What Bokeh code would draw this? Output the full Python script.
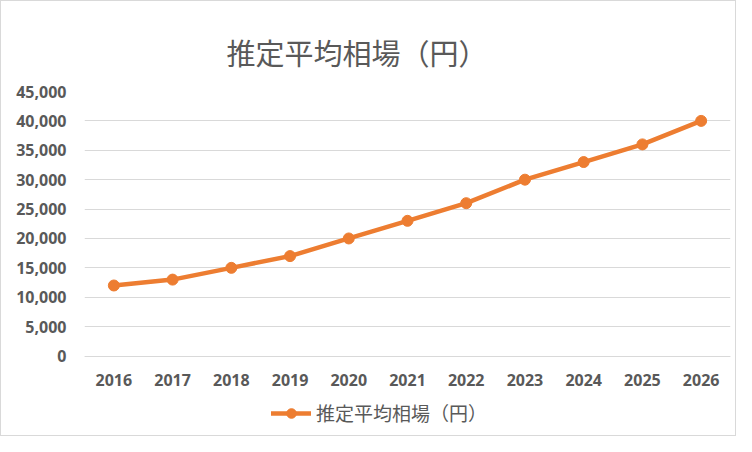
from bokeh.plotting import figure
from bokeh.models import FactorRange, Range1d, FixedTicker, NumeralTickFormatter, Legend, LegendItem
from bokeh.embed import file_html
from bokeh.resources import INLINE

years = ["2016", "2017", "2018", "2019", "2020", "2021", "2022", "2023", "2024", "2025", "2026"]
prices = [12000, 13000, 15000, 17000, 20000, 23000, 26000, 30000, 33000, 36000, 40000]
y_ticks = [0, 5000, 10000, 15000, 20000, 25000, 30000, 35000, 40000, 45000]
title_text = "推定平均相場（円）"
series_name = "推定平均相場（円）"

ORANGE = "#ED7D31"
GRID = "#D9D9D9"
TEXT = "#595959"
CJK = "Noto Sans CJK JP"
NUM = "Open Sans"

# frame spans down to the figure bottom; y=0 sits where the reference's axis is
Y_LOW = -13859

p = figure(width=736, height=436, output_backend="svg", toolbar_location=None,
           x_range=FactorRange(*years, range_padding=0), y_range=Range1d(Y_LOW, 45000),
           min_border_left=83, min_border_right=7, min_border_top=90, min_border_bottom=0)
p.styles = {"border": "1px solid #D9D9D9"}
p.outline_line_color = None
p.background_fill_color = "white"
p.border_fill_color = "white"

p.title.text = title_text
p.title.text_font = CJK
p.title.text_font_size = "29px"
p.title.text_font_style = "normal"
p.title.text_color = TEXT
p.title.align = "left"
p.title.vertical_align = "bottom"
p.title.offset = 142
p.title.standoff = 37

r_line = p.line(years, prices, line_color=ORANGE, line_width=4.5, line_join="round", line_cap="round")
r_pts = p.scatter(years, prices, size=11, fill_color=ORANGE, line_color=ORANGE)

p.yaxis.ticker = FixedTicker(ticks=y_ticks)
p.yaxis.formatter = NumeralTickFormatter(format="0,0")
p.yaxis.axis_line_color = None
p.yaxis.major_tick_line_color = None
p.yaxis.minor_tick_line_color = None
p.yaxis.major_label_text_font = NUM
p.yaxis.major_label_text_font_style = "bold"
p.yaxis.major_label_text_font_size = "16px"
p.yaxis.major_label_text_color = TEXT
p.yaxis.major_label_standoff = 12

p.xaxis.fixed_location = 0
p.xaxis.axis_line_color = GRID
p.xaxis.major_tick_line_color = None
p.xaxis.minor_tick_line_color = None
p.xaxis.major_label_text_font = NUM
p.xaxis.major_label_text_font_style = "bold"
p.xaxis.major_label_text_font_size = "16px"
p.xaxis.major_label_text_color = TEXT
p.xaxis.major_label_standoff = 12

p.xgrid.grid_line_color = None
p.ygrid.grid_line_color = GRID
p.ygrid.grid_line_width = 1

legend = Legend(items=[LegendItem(label=series_name, renderers=[r_line, r_pts])],
                location=(187, 11), orientation="horizontal",
                label_text_font=CJK, label_text_font_size="19px", label_text_color=TEXT,
                glyph_width=40, glyph_height=24, label_standoff=5,
                padding=0, margin=0, border_line_color=None, background_fill_alpha=0)
p.add_layout(legend)

open("out.html", "w").write(file_html(p, INLINE))
